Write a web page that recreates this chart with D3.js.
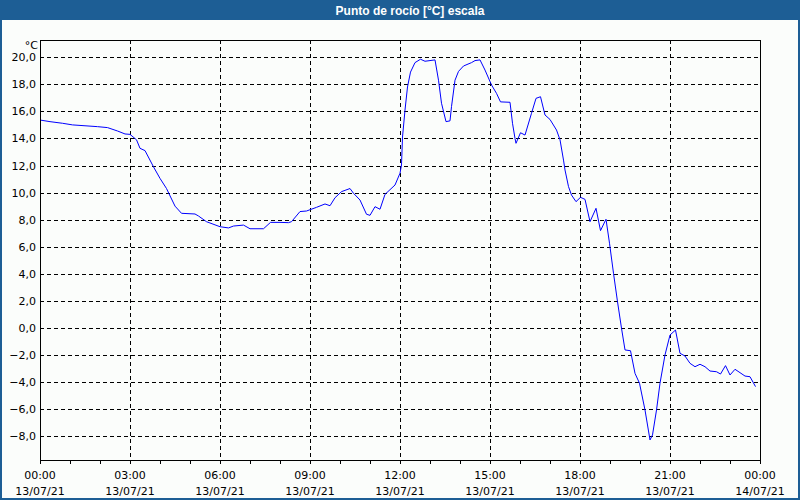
<!DOCTYPE html>
<html><head><meta charset="utf-8">
<script src="https://cdn.jsdelivr.net/npm/d3@7"></script>
<style>html,body{margin:0;padding:0;background:#fff;}svg{display:block;}</style>
</head><body>
<script>
const titleText = "Punto de rocío [°C] escala";
const unitLabel = "°C";
const times = ["00:00","00:20","00:45","01:05","01:55","02:15","02:35","02:50","03:00","03:13","03:20","03:30","03:47","04:00","04:13","04:30","04:43","05:10","05:17","05:33","06:00","06:17","06:27","06:47","07:00","07:27","07:41","08:00","08:17","08:23","08:40","08:53","09:13","09:30","09:40","09:50","10:03","10:20","10:27","10:40","10:53","11:00","11:10","11:20","11:30","11:50","12:00","12:03","12:05","12:10","12:15","12:21","12:30","12:41","12:50","13:10","13:17","13:23","13:32","13:40","13:43","13:50","13:57","14:07","14:23","14:30","14:40","14:50","15:03","15:13","15:21","15:40","15:45","15:50","15:52","16:01","16:10","16:23","16:32","16:41","16:50","17:00","17:13","17:20","17:27","17:30","17:37","17:43","17:52","18:01","18:10","18:20","18:32","18:41","18:52","18:59","19:07","19:15","19:23","19:30","19:41","19:50","19:59","20:10","20:20","20:25","20:33","20:40","20:50","21:00","21:11","21:20","21:30","21:40","21:50","22:00","22:10","22:20","22:33","22:41","22:51","23:00","23:10","23:20","23:30","23:40","23:51"];
const values = [15.36,15.24,15.12,15.0,14.87,14.8,14.55,14.33,14.3,13.9,13.27,13.1,11.9,11.05,10.3,9.0,8.47,8.42,8.27,7.85,7.48,7.39,7.53,7.6,7.33,7.33,7.8,7.8,7.78,7.85,8.6,8.64,8.91,9.16,9.03,9.62,10.07,10.3,9.95,9.45,8.4,8.32,8.96,8.77,9.87,10.56,11.43,12.04,14.1,16.1,17.8,18.9,19.6,19.85,19.7,19.8,18.3,16.6,15.24,15.3,16.35,18.3,18.95,19.35,19.6,19.75,19.8,19.05,17.95,17.33,16.7,16.67,15.12,14.0,13.64,14.42,14.25,15.86,16.96,17.08,15.73,15.4,14.62,13.9,12.4,11.67,10.44,9.82,9.33,9.65,9.5,7.85,8.84,7.19,8.03,6.26,4.04,1.94,-0.02,-1.62,-1.68,-3.35,-4.08,-6.06,-8.27,-7.9,-6.06,-4.08,-1.99,-0.52,-0.15,-1.87,-2.07,-2.61,-2.86,-2.68,-2.86,-3.18,-3.23,-3.4,-2.78,-3.47,-3.05,-3.3,-3.55,-3.6,-4.33];
const yTicks = [-8,-6,-4,-2,0,2,4,6,8,10,12,14,16,18,20];
const xTickHours = [0,3,6,9,12,15,18,21,24];
const xTickDates = ["13/07/21","13/07/21","13/07/21","13/07/21","13/07/21","13/07/21","13/07/21","13/07/21","14/07/21"];

const W = 800, H = 500;
const L = 40, R = 760, T = 40, B = 460;
const svg = d3.select("body").append("svg").attr("width", W).attr("height", H);
const font = "Tahoma, 'DejaVu Sans', sans-serif";

svg.append("rect").attr("x",0).attr("y",0).attr("width",W).attr("height",H).attr("fill","#1d5e95");
svg.append("rect").attr("x",2).attr("y",20).attr("width",W-4).attr("height",H-22).attr("fill","#fbfdfb");
svg.append("text").attr("x",410).attr("y",15).attr("text-anchor","middle")
  .attr("fill","#fff").attr("font-family","'Liberation Sans', Arial, sans-serif").attr("font-weight","bold")
  .attr("font-size",12).text(titleText);

const base = new Date(2021,6,13,0,0);
const parse = s => { const [h,m] = s.split(":").map(Number); return new Date(2021,6,13,h,m); };
const x = d3.scaleTime().domain([base, new Date(2021,6,14,0,0)]).range([L,R]);
const y = d3.scaleLinear().domain([-9.75, 21.27]).range([B,T]);

const g = svg.append("g");
// grid
g.selectAll(".hg").data(yTicks).enter().append("line")
  .attr("x1",L).attr("x2",R).attr("y1",d=>Math.round(y(d))+0.5).attr("y2",d=>Math.round(y(d))+0.5)
  .attr("stroke","#000").attr("stroke-dasharray","4,3");
g.selectAll(".vg").data(xTickHours.slice(1,-1)).enter().append("line")
  .attr("y1",T).attr("y2",B).attr("x1",d=>Math.round(x(new Date(2021,6,13,d)))+0.5).attr("x2",d=>Math.round(x(new Date(2021,6,13,d)))+0.5)
  .attr("stroke","#000").attr("stroke-dasharray","4,3");

// line
const data = times.map((t,i)=>({t:parse(t), v:values[i]}));
g.append("path").datum(data).attr("fill","none").attr("stroke","#0000ff").attr("stroke-width",1)
  .attr("d", d3.line().x(d=>x(d.t)).y(d=>y(d.v)));

// frame
g.append("rect").attr("x",L+0.5).attr("y",T+0.5).attr("width",R-L).attr("height",B-T)
  .attr("fill","none").attr("stroke","#000").attr("stroke-width",1);

// y labels
g.selectAll(".yl").data(yTicks).enter().append("text")
  .attr("x",L-4).attr("y",d=>y(d)+4).attr("text-anchor","end")
  .attr("font-family",font).attr("font-size",11).attr("fill","#000")
  .text(d=>d3.format(".1f")(d).replace(".",","));
svg.append("text").attr("x",L-2).attr("y",T+9).attr("text-anchor","end")
  .attr("font-family",font).attr("font-size",11).text(unitLabel);

// x ticks each hour
const hours = d3.range(0,25);
g.selectAll(".xt").data(hours).enter().append("line")
  .attr("x1",d=>Math.round(x(new Date(2021,6,13,d)))+0.5).attr("x2",d=>Math.round(x(new Date(2021,6,13,d)))+0.5)
  .attr("y1",B).attr("y2",B+4).attr("stroke","#000");
const xl = g.selectAll(".xl").data(xTickHours).enter().append("text")
  .attr("text-anchor","middle").attr("font-family",font).attr("font-size",11).attr("fill","#000");
xl.append("tspan").attr("x",d=>x(new Date(2021,6,13,d))).attr("y",479)
  .text(d=>d3.timeFormat("%H:%M")(new Date(2021,6,13,d)));
xl.append("tspan").attr("x",d=>x(new Date(2021,6,13,d))).attr("y",495)
  .text((d,i)=>xTickDates[i]);
</script>
</body></html>
